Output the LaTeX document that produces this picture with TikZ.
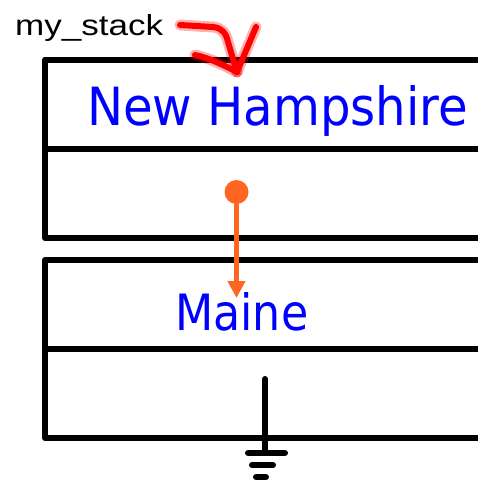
\documentclass[tikz,border=0pt]{standalone}
\usepackage{fontspec}
\setmainfont{Liberation Sans}
\newfontfamily\handfont{DejaVu Sans}
\usetikzlibrary{arrows.meta}
\definecolor{nodeblue}{RGB}{0,0,255}
\definecolor{ptrorange}{RGB}{255,102,34}
\definecolor{inkred}{RGB}{255,0,0}
\tikzset{
  frame/.style={line width=6pt, line join=round, line cap=round},
  label/.style={inner sep=0pt, anchor=base west},
  valtext/.style={inner sep=0pt, anchor=base west, text=nodeblue, font=\handfont},
  pointer/.style={draw=ptrorange, line width=5.5pt, -{Triangle[length=17pt,width=17pt]}},
  ground/.style={line width=6pt, line cap=round},
  ink/.style={draw=inkred, line width=6pt, line cap=round, line join=round},
  inkglow/.style={draw=inkred, opacity=0.3, line width=11pt, line cap=round, line join=round}
}
\begin{document}
\begin{tikzpicture}[x=1pt,y=-1pt]
\useasboundingbox (0,0) rectangle (478,480);
% stack frames
\draw[frame] (482,59.5) -- (45,59.5) -- (45,238) -- (482,238);
\draw[frame] (45,148.5) -- (482,148.5);
\draw[frame] (482,260) -- (45,260) -- (45,438) -- (482,438);
\draw[frame] (45,349) -- (482,349);
% texts
\node[label] (name) at (15,35) {\resizebox{148pt}{21pt}{my\_stack}};
\node[valtext] (nh) at (87,125) {\resizebox{381pt}{40pt}{New Hampshire}};
\node[valtext] (maine) at (175,330) {\resizebox{133pt}{38pt}{Maine}};
% pointer
\node[circle, fill=ptrorange, minimum size=24pt, inner sep=0pt] (dot) at (236.5,192) {};
\coordinate (tip) at (236.5,298);
\draw[pointer] (dot.center) -- (tip);
% ground
\coordinate (gtop) at (265,379);
\coordinate (gbase) at (265,453);
\draw[ground] (gtop) -- (gbase);
\draw[ground] (248,453) -- (285,453);
\draw[ground] (252,465) -- (273,465);
\draw[ground] (256,477) -- (266,477);
% red hand-drawn arrow
\foreach \s in {inkglow, ink}{
  \draw[\s] (180,25) -- (213,27) .. controls (222,28) and (226,33) .. (228,42) -- (237,72);
  \draw[\s] (195,55) .. controls (210,58) and (225,66) .. (237,72);
  \draw[\s] (256,27) -- (237,72);
}
\end{tikzpicture}
\end{document}
